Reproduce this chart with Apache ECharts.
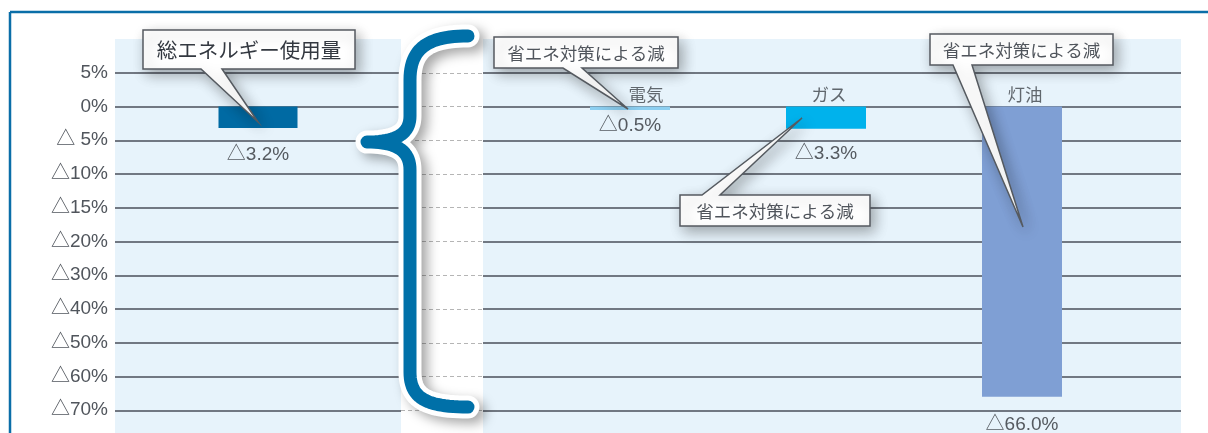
<!DOCTYPE html>
<html>
<head>
<meta charset="utf-8">
<script src="https://cdn.jsdelivr.net/npm/echarts@6/dist/echarts.min.js"></script>
<style>
html,body{margin:0;padding:0;background:#fff;}
#c{width:1208px;height:433px;}
</style>
</head>
<body>
<div id="c"></div>
<script>
// ---- data ----
const yTickValues = [5, 0, -5, -10, -15, -20, -30, -40, -50, -60, -70];
const yTickLabels = ['5%', '0%', '△ 5%', '△10%', '△15%', '△20%', '△30%', '△40%', '△50%', '△60%', '△70%'];
const totalCategory = ['総エネルギー使用量'];
const totalValues = [-3.2];
const energyCategories = ['電気', 'ガス', '灯油'];
const energyValues = [-0.5, -3.3, -66.0];
const calloutText = '省エネ対策による減';

// ---- non-linear axis mapping (ticks are evenly spaced) ----
function toSlot(v) {
  for (let i = 0; i < yTickValues.length - 1; i++) {
    const a = yTickValues[i], b = yTickValues[i + 1];
    if (v <= a && v >= b) return (1 - i) - (a - v) / (a - b);
  }
  return v > yTickValues[0] ? 1 : 1 - (yTickValues.length - 1);
}
function slotLabel(s) {
  const i = Math.round(1 - s);
  return (i >= 0 && i < yTickLabels.length) ? yTickLabels[i] : '';
}
function tri(v) { return '△' + Math.abs(v).toFixed(1) + '%'; }

const FONT = '"Liberation Sans", "Noto Sans CJK JP", sans-serif';
const JFONT = '"Noto Sans CJK JP", sans-serif';
const GRID_LINE = { color: '#4a4f5a', width: 1.5 };
const BG = '#e7f3fb';

const gridBase = { top: 39, height: 405, outerBoundsMode: 'none', containLabel: false };
const grids = [
  Object.assign({ left: 115, width: 286, show: true, backgroundColor: BG, borderWidth: 0 }, gridBase),
  Object.assign({ left: 401, width: 82, show: true, backgroundColor: '#ffffff', borderWidth: 0 }, gridBase),
  Object.assign({ left: 483, width: 698, show: true, backgroundColor: BG, borderWidth: 0 }, gridBase),
  Object.assign({ left: 532, width: 588, show: false }, gridBase)
];

function yAxis(idx, opts) {
  return Object.assign({
    type: 'value', gridIndex: idx, min: -10, max: 2, interval: 1,
    axisLine: { show: false }, axisTick: { show: false },
    axisLabel: { show: false },
    splitLine: { show: true, showMinLine: false, showMaxLine: false, lineStyle: GRID_LINE }
  }, opts || {});
}

const barColorsTotal = ['#006aa3'];
const barColorsEnergy = ['#8ccff1', '#00b2ec', '#7f9fd4'];
const labelDistTotal = [17];
const labelDistEnergy = [6, 15, 19];

const option = {
  animation: false,
  grid: grids,
  xAxis: [
    { type: 'category', gridIndex: 0, data: totalCategory, show: false },
    { type: 'value', gridIndex: 1, min: 0, max: 1, show: false },
    { type: 'value', gridIndex: 2, min: 0, max: 1, show: false },
    { type: 'category', gridIndex: 3, data: energyCategories, show: false }
  ],
  yAxis: [
    yAxis(0, {
      axisLabel: {
        show: true, margin: 7, color: '#50555c', fontSize: 19, fontFamily: FONT,
        formatter: slotLabel
      }
    }),
    yAxis(1, { splitLine: { show: true, showMinLine: false, showMaxLine: false, lineStyle: { color: '#b5b5b5', width: 1, type: [4, 3] } } }),
    yAxis(2),
    yAxis(3, { splitLine: { show: false } })
  ],
  series: [
    {
      type: 'bar', xAxisIndex: 0, yAxisIndex: 0, barWidth: 79,
      data: totalValues.map((v, i) => ({
        value: toSlot(v), raw: v,
        itemStyle: { color: barColorsTotal[i] },
        label: { distance: labelDistTotal[i] }
      })),
      label: {
        show: true, position: 'bottom', color: '#555a60', fontSize: 19, fontFamily: FONT,
        formatter: p => tri(p.data.raw)
      }
    },
    {
      type: 'bar', xAxisIndex: 3, yAxisIndex: 3, barWidth: 80,
      data: energyValues.map((v, i) => ({
        value: toSlot(v), raw: v,
        itemStyle: { color: barColorsEnergy[i] },
        label: { distance: labelDistEnergy[i] }
      })),
      label: {
        show: true, position: 'bottom', color: '#555a60', fontSize: 19, fontFamily: FONT,
        formatter: p => tri(p.data.raw)
      }
    },
    {
      type: 'scatter', xAxisIndex: 3, yAxisIndex: 3, symbolSize: 0,
      data: energyCategories.map((c, i) => ({ value: [i, 0], label: { offset: i === 0 ? [16, 0] : [3, 0] } })),
      label: {
        show: true, position: 'top', distance: 3, color: '#3f434a', fontSize: 17.5, fontFamily: JFONT,
        formatter: p => energyCategories[p.dataIndex]
      },
      z: 5
    }
  ],
  graphic: []
};

// ---- decorations: frame, brace, callouts ----
const g = option.graphic;
g.push({ type: 'line', z: 100, shape: { x1: 10, y1: 12, x2: 1208, y2: 12 }, style: { stroke: '#0a6ea8', lineWidth: 2.5 } });
g.push({ type: 'line', z: 100, shape: { x1: 10, y1: 12, x2: 10, y2: 433 }, style: { stroke: '#0a6ea8', lineWidth: 2.5 } });

// brace outline built from cubic segments
function cubic(p0, p1, p2, p3, n) {
  const out = [];
  for (let k = 1; k <= n; k++) {
    const t = k / n, u = 1 - t;
    out.push([
      u*u*u*p0[0] + 3*u*u*t*p1[0] + 3*u*t*t*p2[0] + t*t*t*p3[0],
      u*u*u*p0[1] + 3*u*u*t*p1[1] + 3*u*t*t*p2[1] + t*t*t*p3[1]
    ]);
  }
  return out;
}
let brace = [[468, 36]];
brace = brace.concat(cubic([468, 36], [428, 36], [410, 48], [410, 80], 24));
brace.push([410, 116]);
brace = brace.concat(cubic([410, 116], [410, 134], [396, 142], [367, 142], 20));
brace = brace.concat(cubic([367, 142], [396, 142], [410, 150], [410, 170], 20));
brace.push([410, 372]);
brace = brace.concat(cubic([410, 372], [410, 398], [426, 407], [468, 407], 24));

g.push({ type: 'polyline', z: 100, shape: { points: brace },
  style: { fill: 'none', stroke: '#ffffff', lineWidth: 23, lineCap: 'round', lineJoin: 'round',
    shadowBlur: 12, shadowColor: 'rgba(0,0,0,0.35)', shadowOffsetX: 6, shadowOffsetY: 5 } });
g.push({ type: 'polyline', z: 101, shape: { points: brace },
  style: { fill: 'none', stroke: '#0070a8', lineWidth: 13, lineCap: 'round', lineJoin: 'round' } });

function callout(x0, y0, x1, y1, b1, b2, tip, tailTop, text, fs, color) {
  let pts;
  if (!tailTop) {
    pts = [[x0, y0], [x1, y0], [x1, y1], [b2, y1], tip, [b1, y1], [x0, y1]];
  } else {
    pts = [[x0, y0], [b1, y0], tip, [b2, y0], [x1, y0], [x1, y1], [x0, y1]];
  }
  g.push({ type: 'polygon', z: 110, shape: { points: pts },
    style: { fill: '#ffffff', stroke: '#555a60', lineWidth: 1.5, lineJoin: 'miter',
      shadowBlur: 14, shadowColor: 'rgba(0,0,0,0.32)', shadowOffsetX: 4, shadowOffsetY: 5 } });
  g.push({ type: 'text', z: 111, x: (x0 + x1) / 2, y: (y0 + y1) / 2 + 1,
    style: { text: text, fill: color, font: fs + 'px ' + JFONT, align: 'center', verticalAlign: 'middle' } });
}
callout(143, 30, 355, 69, 201, 222, [258, 122], false, totalCategory[0], 20.5, '#333840');
callout(494, 37, 678, 68, 563, 582, [628, 109], false, calloutText, 17.5, '#50555c');
callout(680, 195, 870, 226, 702, 720, [802, 118], true, calloutText, 17.5, '#50555c');
callout(930, 34, 1113, 65, 953, 972, [1023, 227], false, calloutText, 17.5, '#50555c');

const chart = echarts.init(document.getElementById('c'), null, { renderer: 'canvas' });
chart.setOption(option);
</script>
</body>
</html>
